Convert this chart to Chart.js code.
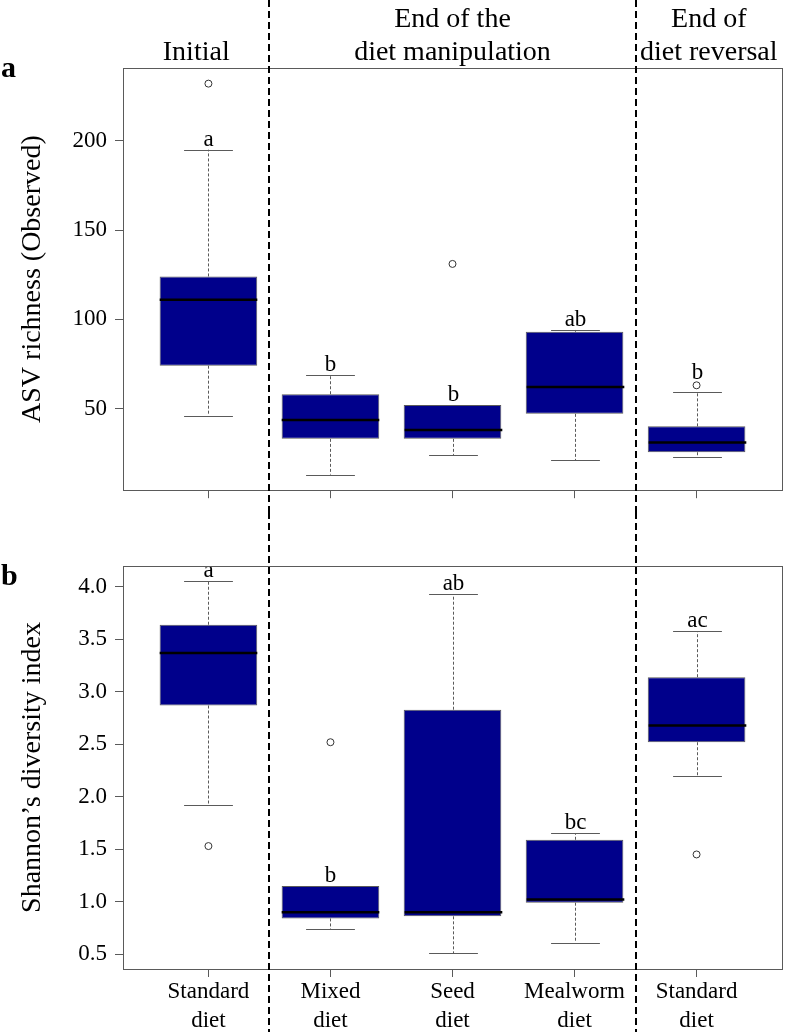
<!DOCTYPE html>
<html>
<head>
<meta charset="utf-8">
<script src="https://cdn.jsdelivr.net/npm/chart.js@4.4.1/dist/chart.umd.min.js"></script>
<style>
  body { margin: 0; background: #fff; }
  canvas { display: block; }
</style>
</head>
<body>
<canvas id="richChart" width="787" height="512"></canvas>
<canvas id="shannonChart" width="787" height="520"></canvas>
<script>
// groups along the x axis (positions 1..5)
const groupLines = [['Standard', 'diet'], ['Mixed', 'diet'], ['Seed', 'diet'], ['Mealworm', 'diet'], ['Standard', 'diet']];
const periodLabels = [['Initial'], ['End of the', 'diet manipulation'], ['End of', 'diet reversal']];
const periodBreaks = [1.5, 4.5];

// panel a - ASV richness (Observed)
const richLow = [46, 13, 24, 21, 23];
const richQ1 = [74, 33, 33, 47, 25.5];
const richMedian = [111, 43.5, 38, 62, 31];
const richQ3 = [124, 58, 52, 93, 40];
const richHigh = [195, 69, 52, 94, 59];
const richOutliers = [[232], [], [131], [], [63]];
const richLetters = ['a', 'b', 'b', 'ab', 'b'];
const richLetterAt = [195, 69, 52, 94, 64.5];
const richTicks = [50, 100, 150, 200];

// panel b - Shannon's diversity index
const shanLow = [1.92, 0.74, 0.51, 0.61, 2.20];
const shanQ1 = [2.87, 0.84, 0.86, 0.99, 2.52];
const shanMedian = [3.37, 0.90, 0.90, 1.02, 2.68];
const shanQ3 = [3.64, 1.15, 2.83, 1.59, 3.14];
const shanHigh = [4.06, 1.15, 3.93, 1.65, 3.58];
const shanOutliers = [[1.53], [2.52], [], [], [1.45]];
const shanLetters = ['a', 'b', 'ab', 'bc', 'ac'];
const shanLetterAt = [4.06, 1.15, 3.93, 1.65, 3.58];
const shanTicks = [0.5, 1.0, 1.5, 2.0, 2.5, 3.0, 3.5, 4.0];

const SERIF = "'Liberation Serif', 'Times New Roman', serif";
const BOX_BLUE = '#00008B';
const EDGE = '#5a5a5a';

// whiskers, caps, medians, letters, frame
function boxExtras(s) {
  return {
    id: 'boxExtras',
    afterDatasetsDraw(chart) {
      const { ctx, chartArea, scales: { x, y } } = chart;
      const bars = chart.getDatasetMeta(0).data;
      const capHalf = (x.getPixelForValue(1.2) - x.getPixelForValue(1));
      ctx.save();
      s.median.forEach((m, i) => {
        const cx = Math.round(x.getPixelForValue(i + 1)) + 0.5;
        const yLo = y.getPixelForValue(s.low[i]);
        const yHi = y.getPixelForValue(s.high[i]);
        const yQ1 = y.getPixelForValue(s.q1[i]);
        const yQ3 = y.getPixelForValue(s.q3[i]);
        ctx.strokeStyle = EDGE;
        ctx.lineWidth = 1;
        ctx.setLineDash([3, 2]);
        ctx.beginPath();
        if (s.high[i] > s.q3[i]) { ctx.moveTo(cx, yQ3); ctx.lineTo(cx, yHi); }
        if (s.low[i] < s.q1[i]) { ctx.moveTo(cx, yQ1); ctx.lineTo(cx, yLo); }
        ctx.stroke();
        ctx.setLineDash([]);
        ctx.beginPath();
        ctx.moveTo(cx - capHalf, Math.round(yHi) + 0.5); ctx.lineTo(cx + capHalf, Math.round(yHi) + 0.5);
        ctx.moveTo(cx - capHalf, Math.round(yLo) + 0.5); ctx.lineTo(cx + capHalf, Math.round(yLo) + 0.5);
        ctx.stroke();
        // median
        const half = bars[i].width / 2;
        ctx.strokeStyle = '#000';
        ctx.lineWidth = 2.5;
        ctx.beginPath();
        ctx.moveTo(cx - half, y.getPixelForValue(m));
        ctx.lineTo(cx + half, y.getPixelForValue(m));
        ctx.stroke();
        // significance letter
        ctx.fillStyle = '#000';
        ctx.font = '23px ' + SERIF;
        ctx.textAlign = 'center';
        ctx.textBaseline = 'alphabetic';
        ctx.fillText(s.letters[i], cx, y.getPixelForValue(s.letterAt[i]) - 4);
      });
      ctx.strokeStyle = EDGE;
      ctx.lineWidth = 1;
      ctx.strokeRect(Math.round(chartArea.left) + 0.5, Math.round(chartArea.top) + 0.5,
        Math.round(chartArea.right - chartArea.left), Math.round(chartArea.bottom - chartArea.top));
      ctx.restore();
    },
    afterDraw(chart) {
      const { ctx, scales: { x } } = chart;
      ctx.save();
      ctx.strokeStyle = '#000';
      ctx.lineWidth = 2;
      ctx.setLineDash([7, 4]);
      periodBreaks.forEach(b => {
        const px = Math.round(x.getPixelForValue(b));
        ctx.beginPath();
        ctx.moveTo(px, 0);
        ctx.lineTo(px, chart.height);
        ctx.stroke();
      });
      ctx.setLineDash([]);
      ctx.fillStyle = '#000';
      ctx.font = 'bold 30px ' + SERIF;
      ctx.textAlign = 'left';
      ctx.fillText(s.panel, 1, s.panelY);
      if (s.headers) {
        const edges = [x.min, ...periodBreaks, x.max];
        ctx.font = '28px ' + SERIF;
        ctx.textAlign = 'center';
        periodLabels.forEach((lines, k) => {
          const cx = (x.getPixelForValue(edges[k]) + x.getPixelForValue(edges[k + 1])) / 2;
          lines.forEach((t, j) => {
            ctx.fillText(t, cx, 60 - (lines.length - 1 - j) * 33);
          });
        });
      }
      ctx.restore();
    }
  };
}

function makeChart(id, s) {
  const boxData = s.q1.map((v, i) => ({ x: i + 1, y: [v, s.q3[i]] }));
  const outData = [];
  s.outliers.forEach((list, i) => list.forEach(v => outData.push({ x: i + 1, y: v })));
  return new Chart(document.getElementById(id), {
    type: 'bar',
    data: {
      datasets: [
        {
          data: boxData,
          backgroundColor: BOX_BLUE,
          borderColor: EDGE,
          borderWidth: 1,
          borderSkipped: false,
          barPercentage: 1,
          categoryPercentage: 0.8
        },
        {
          type: 'scatter',
          data: outData,
          pointStyle: 'circle',
          pointRadius: 3.5,
          pointBorderWidth: 1,
          borderColor: '#333',
          backgroundColor: 'rgba(0,0,0,0)'
        }
      ]
    },
    options: {
      responsive: false,
      animation: false,
      layout: { padding: { top: s.padTop, right: 2, left: 0, bottom: 0 } },
      plugins: { legend: { display: false }, tooltip: { enabled: false } },
      scales: {
        x: {
          type: 'linear',
          offset: false,
          min: 0.3,
          max: 5.7,
          afterBuildTicks: sc => { sc.ticks = groupLines.map((g, i) => ({ value: i + 1 })); },
          afterFit: sc => { sc.height = s.xHeight; },
          grid: { offset: false, drawOnChartArea: false, drawTicks: true, tickLength: 8, color: EDGE },
          border: { display: false },
          ticks: {
            display: s.showX,
            maxRotation: 0,
            autoSkip: false,
            padding: 0,
            color: '#000',
            font: { family: SERIF, size: 23, lineHeight: 1.27 },
            callback: v => groupLines[v - 1]
          }
        },
        y: {
          min: s.min,
          max: s.max,
          afterBuildTicks: sc => { sc.ticks = s.ticks.map(v => ({ value: v })); },
          afterFit: sc => { sc.width = 123; },
          grid: { drawOnChartArea: false, drawTicks: true, tickLength: 8, color: EDGE },
          border: { display: false },
          ticks: {
            padding: 8,
            color: '#000',
            font: { family: SERIF, size: 23 },
            callback: v => s.fmt(v)
          },
          title: {
            display: true,
            text: s.title,
            color: '#000',
            font: { family: SERIF, size: 28 },
            padding: { top: 16, bottom: 0 }
          }
        }
      }
    },
    plugins: [boxExtras(s)]
  });
}

makeChart('richChart', {
  low: richLow, q1: richQ1, median: richMedian, q3: richQ3, high: richHigh,
  outliers: richOutliers, letters: richLetters, letterAt: richLetterAt, ticks: richTicks,
  min: 4.24, max: 240.76, fmt: v => String(v),
  title: 'ASV richness (Observed)', panel: 'a', panelY: 77, headers: true,
  padTop: 68, xHeight: 11, showX: false
});

makeChart('shannonChart', {
  low: shanLow, q1: shanQ1, median: shanMedian, q3: shanQ3, high: shanHigh,
  outliers: shanOutliers, letters: shanLetters, letterAt: shanLetterAt, ticks: shanTicks,
  min: 0.358, max: 4.2, fmt: v => v.toFixed(1),
  title: 'Shannon\u2019s diversity index', panel: 'b', panelY: 73, headers: false,
  padTop: 54, xHeight: 63, showX: true
});
</script>
</body>
</html>
